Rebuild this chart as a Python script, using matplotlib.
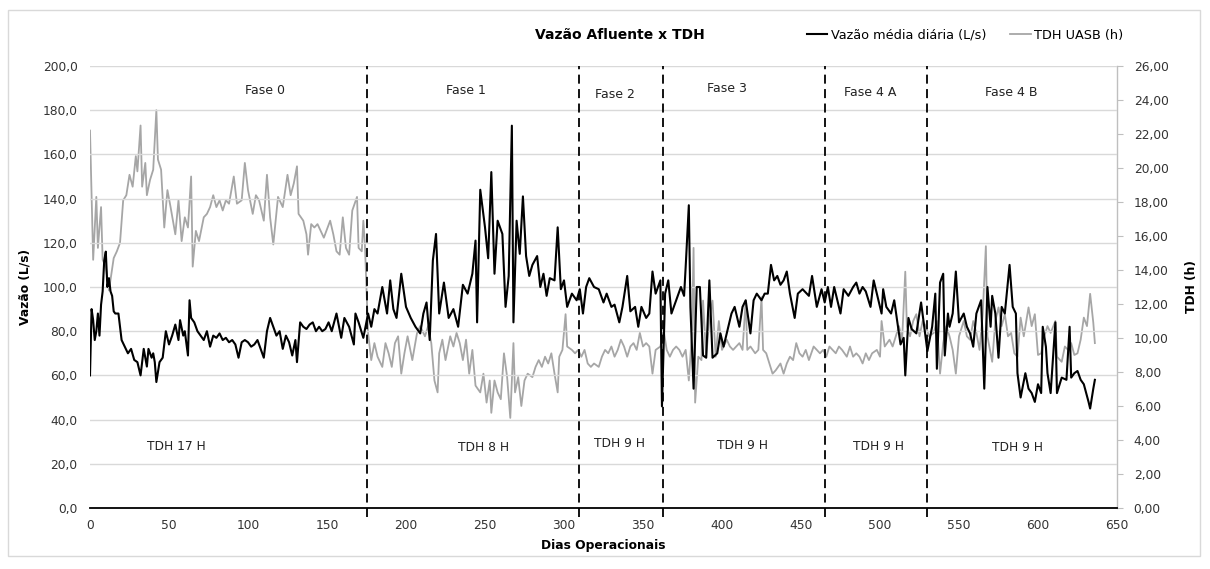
import matplotlib
matplotlib.use("Agg")
import matplotlib.pyplot as plt
from matplotlib.ticker import FuncFormatter, MultipleLocator
from matplotlib.lines import Line2D
from matplotlib.patches import Rectangle

# ---------------- data ----------------
vazao_pts = [
    (0,60),(1,90),(2,85),(3,76),(4,80),(5,88),(6,78),(7,92),(8,98),(9,112),(10,116),(11,100),(12,104),
    (13,98),(14,96),(15,89),(16,88),(18,88),(20,76),(22,73),(24,70),(26,72),(28,67),(30,66),(32,60),
    (34,72),(36,64),(37,72),(39,68),(40,70),(41,66),(42,57),(44,66),(46,68),(48,80),(50,74),(52,78),
    (54,83),(56,76),(57,85),(59,78),(60,80),(62,69),(63,94),(64,86),(66,84),(68,80),(70,78),(72,76),
    (74,80),(76,73),(78,78),(80,77),(82,79),(84,76),(86,77),(88,75),(90,76),(92,74),(94,68),(96,75),
    (98,76),(100,75),(102,73),(104,74),(106,76),(108,72),(110,68),(112,80),(114,86),(116,82),(118,78),
    (120,80),(122,72),(124,78),(126,75),(128,69),(130,76),(131,66),(133,84),(135,82),(137,81),(139,83),
    (141,84),(143,80),(145,82),(147,80),(149,81),(151,84),(153,80),(156,88),(159,77),(161,86),(164,82),
    (167,74),(168,88),(170,84),(173,77),(176,88),(178,82),(180,90),(182,88),(185,100),(188,88),(190,103),
    (192,90),(194,86),(197,106),(200,91),(203,86),(206,82),(209,79),(211,88),(213,93),(215,76),(217,112),
    (219,124),(221,88),(224,102),(227,86),(230,90),(233,82),(236,101),(239,97),(242,106),(244,121),
    (245,84),(247,144),(250,127),(252,113),(254,152),(256,106),(258,130),(261,124),(263,91),(265,105),
    (267,173),(268,84),(270,130),(272,115),(274,141),(276,114),(278,105),(280,110),(283,114),(285,100),
    (287,106),(289,96),(291,104),(294,103),(296,127),(298,99),(300,103),(302,91),(305,97),(308,94),
    (310,99),(312,88),(314,100),(316,104),(319,100),(322,99),(325,93),(327,97),(330,91),(332,92),
    (335,84),(337,91),(340,105),(342,89),(345,91),(347,82),(349,91),(352,86),(354,88),(356,107),
    (358,97),(361,103),(362,46),(364,97),(366,103),(368,88),(371,94),(374,100),(376,96),(377,109),
    (379,137),(380,91),(382,54),(384,100),(386,100),(388,69),(390,68),(392,103),(394,68),(397,70),
    (399,79),(401,73),(404,82),(406,88),(408,91),(411,82),(413,91),(415,94),(418,79),(420,94),(422,97),
    (425,94),(427,97),(429,97),(431,110),(433,103),(435,105),(437,101),(439,103),(441,107),(443,97),
    (446,86),(448,97),(451,99),(455,96),(457,105),(460,91),(463,99),(465,93),(467,100),(469,91),
    (471,100),(475,88),(477,99),(480,96),(483,100),(485,102),(487,97),(489,100),(491,98),(494,91),
    (496,103),(498,97),(501,88),(502,99),(504,91),(507,88),(509,94),(511,84),(513,74),(515,77),(516,60),
    (518,86),(520,81),(523,79),(526,93),(528,82),(530,71),(533,82),(535,97),(536,63),(538,102),(540,106),
    (541,69),(543,88),(544,82),(546,88),(548,107),(550,84),(553,88),(555,82),(557,79),(559,73),(561,88),
    (564,94),(566,54),(568,100),(570,82),(571,96),(573,88),(575,68),(577,91),(579,88),(582,110),(584,91),
    (586,88),(587,61),(589,50),(592,61),(594,54),(596,52),(598,48),(600,56),(602,52),(603,82),(605,73),
    (606,61),(608,52),(611,84),(612,52),(615,59),(618,58),(620,82),(621,59),(623,61),(625,62),(627,58),
    (629,56),(632,48),(633,45),(635,54),(636,58),
]
tdh_pts = [
    (0,22.2),(2,14.6),(4,18.3),(5,15.3),(7,17.7),(8,14.6),(10,14.2),(12,12.8),(15,14.7),(17,15.1),
    (19,15.6),(21,18.1),(23,18.4),(25,19.6),(27,18.9),(29,20.7),(30,19.8),(32,22.5),(33,18.9),(35,20.3),
    (36,18.4),(38,19.3),(40,19.9),(42,23.4),(43,20.5),(45,19.9),(47,16.5),(49,18.7),(51,17.7),(54,16.1),
    (56,18.1),(58,15.7),(60,17.1),(62,16.5),(64,19.5),(65,14.2),(67,16.3),(69,15.7),(72,17.1),(74,17.3),
    (76,17.7),(78,18.4),(80,17.7),(82,18.1),(84,17.5),(86,18.1),(88,17.9),(91,19.5),(93,17.9),(96,18.1),
    (98,20.3),(100,18.7),(103,17.3),(105,18.4),(107,18.1),(110,16.9),(112,19.6),(114,17.1),(116,15.5),
    (119,18.3),(122,17.7),(125,19.6),(127,18.4),(129,19.1),(131,20.1),(132,17.3),(135,16.9),(137,16.1),
    (138,14.9),(140,16.7),(142,16.5),(144,16.7),(146,16.3),(148,15.9),(152,16.9),(154,16.1),(156,15.1),
    (158,14.9),(160,17.1),(162,15.3),(164,14.9),(166,17.5),(169,18.3),(170,15.3),(172,15.1),(173,16.9),
    (174,15.5),(176,10.3),(178,8.7),(180,9.7),(182,8.9),(185,8.3),(187,9.7),(189,9.1),(191,8.3),(193,9.7),
    (195,10.1),(197,7.9),(199,9.1),(201,10.1),(204,8.7),(207,10.3),(209,10.7),(212,10.1),(214,10.7),
    (216,9.7),(218,7.5),(220,6.8),(221,9.1),(223,9.9),(225,8.7),(228,10.1),(230,9.5),(232,10.3),(234,9.7),
    (236,8.7),(238,9.9),(240,7.9),(242,9.3),(244,7.2),(247,6.8),(249,7.9),(251,6.2),(253,7.5),(254,5.6),
    (256,7.5),(258,6.8),(260,6.4),(262,9.1),(264,7.7),(266,5.3),(268,9.7),(269,6.8),(271,7.7),(273,6.0),
    (275,7.5),(277,7.9),(280,7.7),(282,8.3),(284,8.7),(286,8.3),(288,8.9),(290,8.5),(292,9.1),(294,7.9),
    (296,6.8),(297,8.9),(299,9.3),(301,11.4),(302,9.5),(305,9.3),(307,9.1),(309,9.3),(311,8.9),(313,9.3),
    (315,8.5),(317,8.3),(319,8.5),(322,8.3),(324,8.9),(326,9.3),(328,9.1),(330,9.5),(332,8.9),(334,9.3),
    (336,9.9),(338,9.5),(340,8.9),(342,9.5),(344,9.7),(346,9.3),(348,10.3),(350,9.5),(352,9.7),(354,9.5),
    (356,7.9),(358,9.3),(361,9.5),(363,10.5),(365,9.3),(367,8.9),(369,9.3),(371,9.5),(373,9.3),(375,8.9),
    (377,9.3),(379,7.5),(381,10.3),(382,15.3),(383,6.2),(385,8.9),(387,8.7),(388,12.2),(390,8.9),
    (392,11.1),(394,12.2),(396,8.9),(398,11.0),(400,9.3),(403,9.9),(405,9.5),(407,9.3),(409,9.5),
    (411,9.7),(413,9.3),(415,12.2),(416,9.3),(418,9.5),(421,9.1),(423,9.3),(425,12.4),(426,9.3),(428,9.1),
    (430,8.5),(432,7.9),(434,8.1),(437,8.5),(439,7.9),(441,8.5),(443,8.9),(445,8.7),(447,9.7),(449,9.1),
    (451,8.9),(453,9.3),(455,8.7),(458,9.5),(460,9.3),(462,9.1),(464,9.3),(466,8.9),(468,9.5),(470,9.3),
    (472,9.1),(474,9.5),(476,9.3),(479,8.9),(481,9.5),(483,8.9),(485,9.1),(487,8.9),(489,8.5),(491,9.1),
    (493,8.7),(495,9.1),(498,9.3),(500,8.9),(501,11.0),(503,9.5),(506,9.9),(508,9.5),(510,10.1),
    (512,10.7),(514,9.9),(516,13.9),(517,10.7),(519,10.1),(521,11.0),(523,11.4),(525,10.1),(527,11.0),
    (529,10.7),(531,10.1),(534,10.3),(536,11.0),(538,7.9),(540,9.7),(542,10.7),(544,10.1),(546,9.3),
    (548,7.9),(550,10.1),(553,11.0),(555,10.1),(557,9.9),(559,11.0),(561,10.3),(563,9.3),(565,11.4),
    (567,15.4),(568,10.1),(571,8.6),(573,11.0),(575,11.8),(577,10.7),(579,11.4),(581,10.1),(583,10.3),
    (585,9.1),(587,8.9),(589,11.2),(591,10.1),(594,11.8),(596,10.7),(598,11.4),(600,9.0),(602,9.1),
    (604,10.1),(606,10.7),(608,10.3),(611,11.0),(612,8.9),(615,8.6),(617,9.5),(619,9.3),(621,9.7),
    (623,9.0),(625,9.1),(627,9.9),(629,11.2),(631,10.7),(633,12.6),(635,10.9),(636,9.7),
]
dias_vazao = [d for d, _ in vazao_pts]
vazao = [v for _, v in vazao_pts]
dias_tdh = [d for d, _ in tdh_pts]
tdh = [v for _, v in tdh_pts]

fases_limites = [175, 309.5, 362.5, 465, 530]
fases_nomes = ["Fase 0", "Fase 1", "Fase 2", "Fase 3", "Fase 4 A", "Fase 4 B"]
fases_x = [111, 238, 332, 403, 494, 583]
fases_y = [189, 189, 187, 190, 188, 188]
tdh_nomes = ["TDH 17 H", "TDH 8 H", "TDH 9 H", "TDH 9 H", "TDH 9 H", "TDH 9 H"]
tdh_x = [54.5, 249, 335, 413, 499, 587]
tdh_y = [28, 27.6, 29.4, 28.5, 28, 27.6]

# ---------------- figure ----------------
plt.rcParams['font.family'] = ['DejaVu Sans']
fig = plt.figure(figsize=(12.10, 5.69), dpi=100)
fig.patches.append(Rectangle((8/1210, 1-556/569), 1192/1210, 546/569, transform=fig.transFigure,
                             fill=False, edgecolor='#d9d9d9', lw=1))
ax = fig.add_axes([90/1210, 1-508/569, 1027/1210, 442/569])
ax2 = ax.twinx()

ax.set_xlim(0, 650)
ax.set_ylim(0, 200)
ax2.set_ylim(0, 26)

for y in range(20, 201, 20):
    ax.axhline(y, color='#d9d9d9', lw=1, zorder=0)

ax.plot(dias_vazao, vazao, color='black', lw=1.5, zorder=3)
ax2.plot(dias_tdh, tdh, color='#a6a6a6', lw=1.3, zorder=2)

for xl in fases_limites:
    ax.axvline(xl, ymin=-0.02, ymax=1, color='black', lw=1.3, ls=(0, (5, 3)),
               clip_on=False, zorder=4)

for n, x, y in zip(fases_nomes, fases_x, fases_y):
    ax.text(x, y, n, ha='center', va='center', fontsize=9, color='#222222', zorder=5)
for n, x, y in zip(tdh_nomes, tdh_x, tdh_y):
    ax.text(x, y, n, ha='center', va='center', fontsize=8.8, color='#222222', zorder=5)

fmt1 = FuncFormatter(lambda v, p: f"{v:.1f}".replace('.', ','))
fmt2 = FuncFormatter(lambda v, p: f"{v:.2f}".replace('.', ','))
ax.yaxis.set_major_locator(MultipleLocator(20))
ax.yaxis.set_major_formatter(fmt1)
ax2.yaxis.set_major_locator(MultipleLocator(2))
ax2.yaxis.set_major_formatter(fmt2)
ax.xaxis.set_major_locator(MultipleLocator(50))

for s in ['top', 'left', 'right']:
    ax.spines[s].set_visible(False)
for s in ['top', 'left', 'bottom']:
    ax2.spines[s].set_visible(False)
ax.spines['bottom'].set_color('black')
ax.spines['bottom'].set_linewidth(1.3)
ax2.spines['right'].set_color('#bfbfbf')
ax2.spines['right'].set_linewidth(1)

ax.tick_params(axis='y', length=0, pad=9, labelsize=8.8, labelcolor='#333333')
ax.tick_params(axis='x', length=0, pad=8, labelsize=8.8, labelcolor='#333333')
ax2.tick_params(axis='y', length=4, color='#bfbfbf', pad=8, labelsize=8.8, labelcolor='#333333')

ax.set_ylabel("Vazão (L/s)", fontsize=8.8, fontweight='bold', labelpad=8)
ax2.set_ylabel("TDH (h)", fontsize=8.8, fontweight='bold', labelpad=12)
ax.set_xlabel("Dias Operacionais", fontsize=8.8, fontweight='bold', labelpad=5)

fig.text(620/1210, 1-35/569, "Vazão Afluente x TDH", ha='center', va='center',
         fontsize=10, fontweight='bold')
handles = [Line2D([], [], color='black', lw=1.5), Line2D([], [], color='#a6a6a6', lw=1.3)]
fig.legend(handles, ["Vazão média diária (L/s)", "TDH UASB (h)"], ncol=2, frameon=False,
           loc='center left', bbox_to_anchor=(795/1210, 1-35/569), fontsize=9.3,
           handlelength=1.6, handletextpad=0.3, columnspacing=1.8)

ax.set_zorder(ax2.get_zorder() + 1)
ax.patch.set_visible(False)

fig.savefig("out.png", dpi=100)
